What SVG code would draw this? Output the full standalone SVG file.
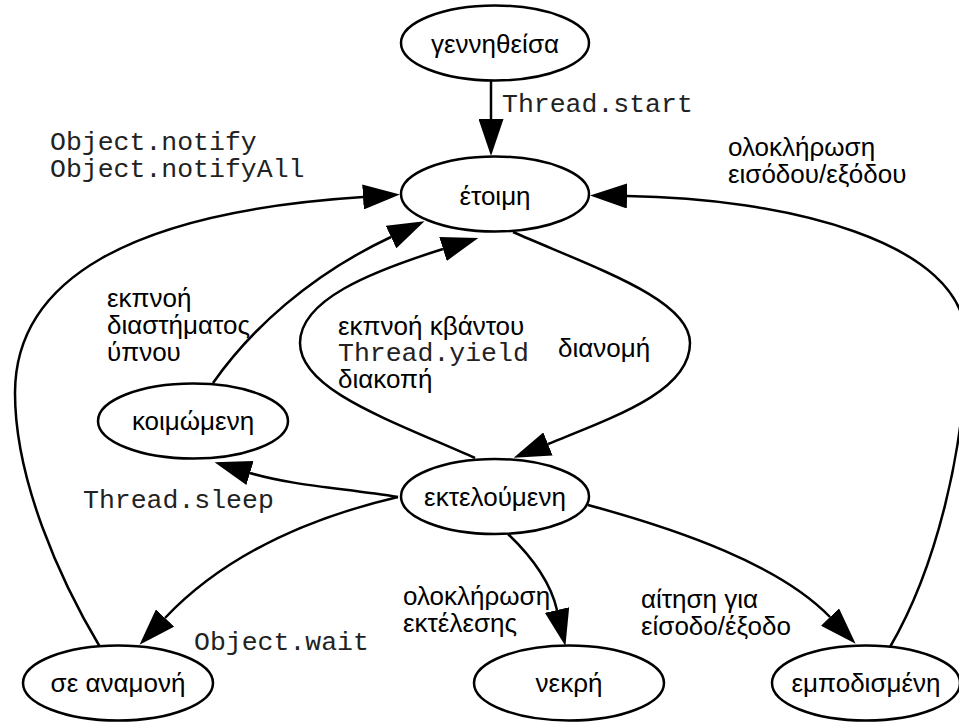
<svg xmlns="http://www.w3.org/2000/svg" width="959" height="722" viewBox="0 0 959 722">
<defs>
<style>
.node ellipse{fill:#fff;stroke:#000;stroke-width:2.5}
.node text{font-family:"Liberation Sans",Arial,sans-serif;font-size:26px;text-anchor:middle;fill:#000}
.edges path{fill:none;stroke:#000;stroke-width:2.5;marker-end:url(#ah)}
.lbl{font-family:"Liberation Sans",Arial,sans-serif;font-size:26px;fill:#000}
.code{font-family:"Liberation Mono","Courier New",monospace;font-size:26.5px;fill:#222}
</style>
<marker id="ah" markerUnits="userSpaceOnUse" viewBox="0 0 37 25" markerWidth="37" markerHeight="25" refX="0" refY="12.5" orient="auto">
<path d="M0,0 L37,12.5 L0,25 z" fill="#000"/>
</marker>
</defs>
<rect width="959" height="722" fill="#fff"/>
<g class="edges" id="connectors">
<path d="M491,81 L491,119"/>
<path d="M100,647 C60,580 15,480 15,393 C15,280 130,212 363,197"/>
<path d="M213,383 C250,330 310,275 391,237"/>
<path d="M475,458 C390,420 300,390 300,343 C300,300 370,272 443,249"/>
<path d="M513,232 C600,270 690,300 690,343 C690,390 620,415 548,444"/>
<path d="M398,497 C340,488 290,485 250,473"/>
<path d="M398,497 C300,520 220,560 165,618"/>
<path d="M508,534 C530,555 550,580 557,610"/>
<path d="M588,505 C680,530 780,565 830,617"/>
<path d="M890,647 C935,570 966,450 966,340 C966,240 780,198 627,196"/>
</g>
<g id="labels">
<text class="code" x="502" y="112">Thread.start</text>
<text class="code" x="50" y="150">Object.notify</text>
<text class="code" x="50" y="177">Object.notifyAll</text>
<text class="lbl" x="728" y="156">ολοκλήρωση</text>
<text class="lbl" x="728" y="183">εισόδου/εξόδου</text>
<text class="lbl" x="107" y="307">εκπνοή</text>
<text class="lbl" x="107" y="334">διαστήματος</text>
<text class="lbl" x="107" y="361">ύπνου</text>
<text class="lbl" x="338" y="335">εκπνοή κβάντου</text>
<text class="code" x="338" y="361">Thread.yield</text>
<text class="lbl" x="338" y="388">διακοπή</text>
<text class="lbl" x="558" y="357">διανομή</text>
<text class="code" x="83" y="508">Thread.sleep</text>
<text class="code" x="194" y="650">Object.wait</text>
<text class="lbl" x="403" y="605">ολοκλήρωση</text>
<text class="lbl" x="403" y="632">εκτέλεσης</text>
<text class="lbl" x="641" y="608">αίτηση για</text>
<text class="lbl" x="641" y="635">είσοδο/έξοδο</text>
</g>
<g class="node" id="n-gennitheisa"><ellipse cx="495" cy="43" rx="94" ry="37.5"/><text x="495" y="53">γεννηθείσα</text></g>
<g class="node" id="n-etoimi"><ellipse cx="495" cy="194" rx="94" ry="37.5"/><text x="495" y="205">έτοιμη</text></g>
<g class="node" id="n-ektelou"><ellipse cx="495" cy="496.5" rx="94" ry="37.5"/><text x="495" y="506">εκτελούμενη</text></g>
<g class="node" id="n-koimom"><ellipse cx="193" cy="421" rx="95" ry="37.5"/><text x="193" y="430">κοιμώμενη</text></g>
<g class="node" id="n-anamoni"><ellipse cx="118" cy="683" rx="95" ry="37.5"/><text x="118" y="692">σε αναμονή</text></g>
<g class="node" id="n-nekri"><ellipse cx="569" cy="683" rx="95" ry="37.5"/><text x="569" y="692">νεκρή</text></g>
<g class="node" id="n-empod"><ellipse cx="866" cy="683" rx="94" ry="37.5"/><text x="866" y="692">εμποδισμένη</text></g>
</svg>
